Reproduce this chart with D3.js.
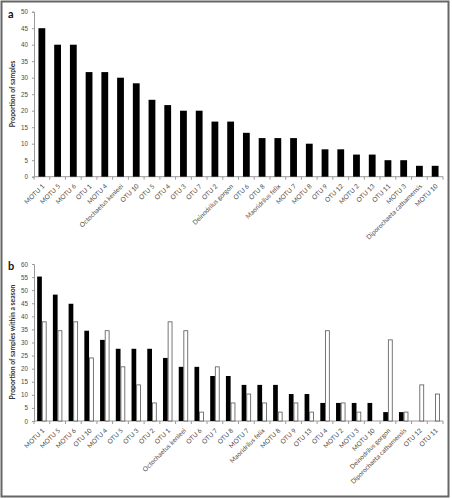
<!DOCTYPE html>
<html>
<head>
<meta charset="utf-8">
<script src="https://cdn.jsdelivr.net/npm/d3@7"></script>
<style>
  html, body { margin: 0; padding: 0; background: #fff; }
  svg { display: block; font-family: Lato, "Open Sans", sans-serif; -webkit-font-smoothing: antialiased; }
  svg text { opacity: 0.99; }
</style>
</head>
<body>
<svg id="chart" width="452" height="499"></svg>
<script>
// ---------- DATA ----------
const categoriesA = ["MOTU 1","MOTU 5","MOTU 6","OTU 1","MOTU 4","Octochaetus kenleei","OTU 10","OTU 5","OTU 4","OTU 3","OTU 7","OTU 2","Deinodrilus gorgon","OTU 6","OTU 8","Maoridrilus felix","MOTU 7","MOTU 8","OTU 9","OTU 12","MOTU 2","OTU 13","OTU 11","MOTU 3","Diporochaeta cathamensis","MOTU 10"];
const valuesA = [45,40,40,31.7,31.7,30,28.3,23.3,21.7,20,20,16.7,16.7,13.3,11.7,11.7,11.7,10,8.3,8.3,6.7,6.7,5,5,3.3,3.3];
const ticksA = [0,5,10,15,20,25,30,35,40,45,50];

const categoriesB = ["MOTU 1","MOTU 5","MOTU 6","OTU 10","MOTU 4","OTU 5","OTU 3","OTU 2","OTU 1","Octochaetus kenleei","OTU 6","OTU 7","OTU 8","MOTU 7","Maoridrilus felix","MOTU 8","OTU 9","OTU 13","OTU 4","MOTU 2","MOTU 3","MOTU 10","Deinodrilus gorgon","Diporochaeta cathamensis","OTU 12","OTU 11"];
const seasonBlack = [55.2,48.3,44.8,34.5,31.0,27.6,27.6,27.6,24.1,20.7,20.7,17.2,17.2,13.8,13.8,13.8,10.3,10.3,6.9,6.9,6.9,6.9,3.4,3.4,0,0];
const seasonWhite = [37.9,34.5,37.9,24.1,34.5,20.7,13.8,6.9,37.9,34.5,3.4,20.7,6.9,10.3,6.9,3.4,6.9,3.4,34.5,6.9,3.4,0,31.0,3.4,13.8,10.3];
const ticksB = [0,5,10,15,20,25,30,35,40,45,50,55,60];

// ---------- DRAW ----------
const svg = d3.select("#chart");
const axisColor = "#9a9a9a";
const textColor = "#4a4a4a";

svg.append("rect").attr("x",1.5).attr("y",1.5).attr("width",447).attr("height",495)
  .attr("fill","none").attr("stroke","#666").attr("stroke-width",2);

function styleAxis(g){
  g.select(".domain").attr("stroke",axisColor).attr("stroke-width",1);
  g.selectAll(".tick line").attr("stroke",axisColor);
  g.selectAll(".tick text").attr("fill",textColor).attr("font-size","6.3px");
}

function panel(opts){
  const x = d3.scaleBand().domain(opts.categories).range([34, 443]).padding(0);
  const y = d3.scaleLinear().domain([0, opts.max]).range([opts.y0, opts.y1]);

  // y axis
  const ya = svg.append("g").attr("transform","translate(34,0)")
    .call(d3.axisLeft(y).tickValues(opts.ticks).tickSize(2).tickPadding(4).tickFormat(d3.format("d")));
  styleAxis(ya);

  // x axis with ticks at band boundaries
  const xa = svg.append("g").attr("transform",`translate(0,${opts.y0})`);
  xa.append("line").attr("x1",34).attr("x2",443).attr("stroke",axisColor);
  const bounds = opts.categories.map(c => x(c)).concat([x.range()[1]]);
  xa.selectAll("line.t").data(bounds).join("line").attr("class","t")
    .attr("x1",d=>d).attr("x2",d=>d).attr("y1",0).attr("y2",3).attr("stroke",axisColor);
  xa.selectAll("text.lbl").data(opts.categories).join("text").attr("class","lbl")
    .attr("transform", d => `translate(${x(d)+x.bandwidth()/2+3},${opts.labelDy}) rotate(-45)`)
    .attr("text-anchor","end").attr("font-size","6.5px").attr("fill",textColor)
    .text(d=>d);

  // y title
  svg.append("text")
    .attr("transform",`translate(15,${opts.titleY}) rotate(-90)`)
    .attr("text-anchor","middle").attr("font-size","6.8px").attr("font-weight","bold")
    .attr("fill","#333").text(opts.title);

  // panel letter
  svg.append("text").attr("x",8).attr("y",opts.letterY)
    .attr("font-size","11px").attr("font-weight","bold").attr("fill","#111").text(opts.letter);
  return {x, y};
}

// Panel a
const pa = panel({categories: categoriesA, max: 50, y0: 176.7, y1: 11.7, ticks: ticksA,
  labelDy: 10, title: "Proportion of samples", titleY: 94, letter: "a", letterY: 18});
const bwA = 6.8;
svg.append("g").selectAll("rect").data(categoriesA).join("rect")
  .attr("x", (d) => pa.x(d) + pa.x.bandwidth()/2 - bwA/2)
  .attr("y", (d,i) => pa.y(valuesA[i]))
  .attr("width", bwA)
  .attr("height", (d,i) => pa.y(0) - pa.y(valuesA[i]))
  .attr("fill","#000");

// Panel b
const pb = panel({categories: categoriesB, max: 60, y0: 421, y1: 264, ticks: ticksB,
  labelDy: 10, title: "Proportion of samples within a season", titleY: 342, letter: "b", letterY: 270});
const sub = d3.scaleBand().domain(["black","white"]).range([0, pb.x.bandwidth()]).paddingInner(0).paddingOuter(0.67);
const gB = svg.append("g");
categoriesB.forEach((c,i) => {
  if (seasonBlack[i] > 0) {
    gB.append("rect").attr("x", pb.x(c) + sub("black")).attr("y", pb.y(seasonBlack[i]))
      .attr("width", sub.bandwidth()).attr("height", pb.y(0) - pb.y(seasonBlack[i]))
      .attr("fill","#000");
  }
  if (seasonWhite[i] > 0) {
    gB.append("rect").attr("x", pb.x(c) + sub("white") + 0.4).attr("y", pb.y(seasonWhite[i]))
      .attr("width", sub.bandwidth() - 0.8).attr("height", pb.y(0) - pb.y(seasonWhite[i]))
      .attr("fill","#fff").attr("stroke","#555").attr("stroke-width",0.8);
  }
});
</script>
</body>
</html>
